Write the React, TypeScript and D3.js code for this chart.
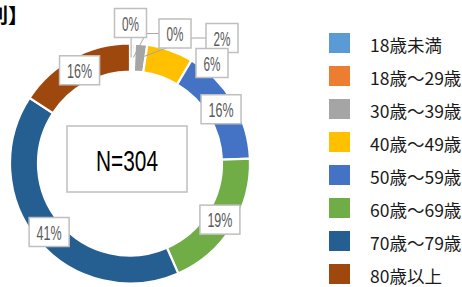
import React from 'react';
import * as d3 from 'd3';

// age groups, colours, counts (N=304)
const categories = ['18歳未満', '18歳～29歳', '30歳～39歳', '40歳～49歳', '50歳～59歳', '60歳～69歳', '70歳～79歳', '80歳以上'];
const colors = ['#5B9BD5', '#ED7D31', '#A5A5A5', '#FFC000', '#4472C4', '#70AD47', '#255E91', '#9E480E'];
const counts = [1, 1, 5, 19, 48, 58, 124, 48];
const total = 304;

// small slices have their labels pushed out of the ring (x, y of box centre), null = on centroid
const labelSpots: ([number, number] | null)[] = [[130.5, 23], [175, 33.5], [222, 38], [212, 63], null, null, null, null];

const W = 462;
const H = 287;
const cx = 130;
const cy = 163.5;
const outerR = 120;
const innerR = 92;

const labelFont = "'Liberation Sans Narrow', 'Liberation Sans', Arial, sans-serif";
const jpFont = "'Noto Sans CJK JP', 'Noto Sans', sans-serif";

function App() {
  const pie = d3.pie<number>().sort(null).value(d => d).startAngle(0).endAngle(2 * Math.PI);
  const arcs = pie(counts);
  const arc = d3.arc<d3.PieArcDatum<number>>().innerRadius(innerR).outerRadius(outerR);
  const mid = d3.arc<d3.PieArcDatum<number>>().innerRadius(106).outerRadius(106);

  const legendY = d3.scaleBand<string>().domain(categories).range([33, 33 + 33 * 8]);

  const labels = arcs.map((a, i) => {
    const [mx, my] = mid.centroid(a);
    const pct = Math.round((a.data / total) * 100) + '%';
    const digits = pct.length - 1;
    const tw = 8 * digits + 9;
    const bw = tw + 15;
    const bh = 29;
    const spot = labelSpots[i];
    const lx = spot ? spot[0] : cx + mx;
    const ly = spot ? spot[1] : cy + my;
    let leader: string | null = null;
    if (spot && i < 3) {
      const tx = cx + mx;
      const ty = cy + my;
      if (Math.abs(lx - tx) < bw / 2) {
        leader = d3.line()([[tx, ly + bh / 2], [tx, ty]]);
      } else {
        const ex = lx - bw / 2;
        leader = d3.line()([[ex, ly], [ex - 13, ly], [tx, ty]]);
      }
    }
    return { pct, tw, bw, bh, lx, ly, leader };
  });

  return (
    <svg width={W} height={H} style={{ position: 'absolute', left: 0, top: 0, background: '#fff' }}>
      {/* title, cut off at the left like the source */}
      <text x={28} y={23} textAnchor="end" fontFamily={jpFont} fontWeight="bold" fontSize={20} fill="#000">別】</text>

      <g transform={`translate(${cx},${cy})`}>
        {arcs.map((a, i) => (
          <path key={i} d={arc(a) || ''} fill={colors[i]} stroke="#fff" strokeWidth={2.2} />
        ))}
      </g>

      {labels.map((l, i) => l.leader && (
        <path key={'ld' + i} d={l.leader} fill="none" stroke="#a6a6a6" strokeWidth={1} />
      ))}

      {labels.map((l, i) => (
        <g key={'lb' + i}>
          <rect x={l.lx - l.bw / 2} y={l.ly - l.bh / 2} width={l.bw} height={l.bh} fill="#fff" stroke="#bfbfbf" strokeWidth={1.5} />
          <text x={l.lx} y={l.ly + 7.5} textAnchor="middle" fontFamily={labelFont} fontSize={21} fill="#595959"
            textLength={l.tw} lengthAdjust="spacingAndGlyphs">{l.pct}</text>
        </g>
      ))}

      {/* N box */}
      <rect x={cx - 63} y={cy - 37.5} width={120} height={66} fill="#fff" stroke="#bfbfbf" strokeWidth={1.5} />
      <text x={cx - 3} y={cy + 7} textAnchor="middle" fontFamily={labelFont} fontSize={30} fill="#000"
        textLength={62} lengthAdjust="spacingAndGlyphs">{`N=${total}`}</text>

      {/* legend */}
      {categories.map((c, i) => (
        <g key={c} transform={`translate(329,${legendY(c)})`}>
          <rect width={21} height={20} fill={colors[i]} />
          <text x={41} y={19} fontFamily={jpFont} fontSize={17.5} fill="#1a1a1a">{c}</text>
        </g>
      ))}
    </svg>
  );
}

export default App;
